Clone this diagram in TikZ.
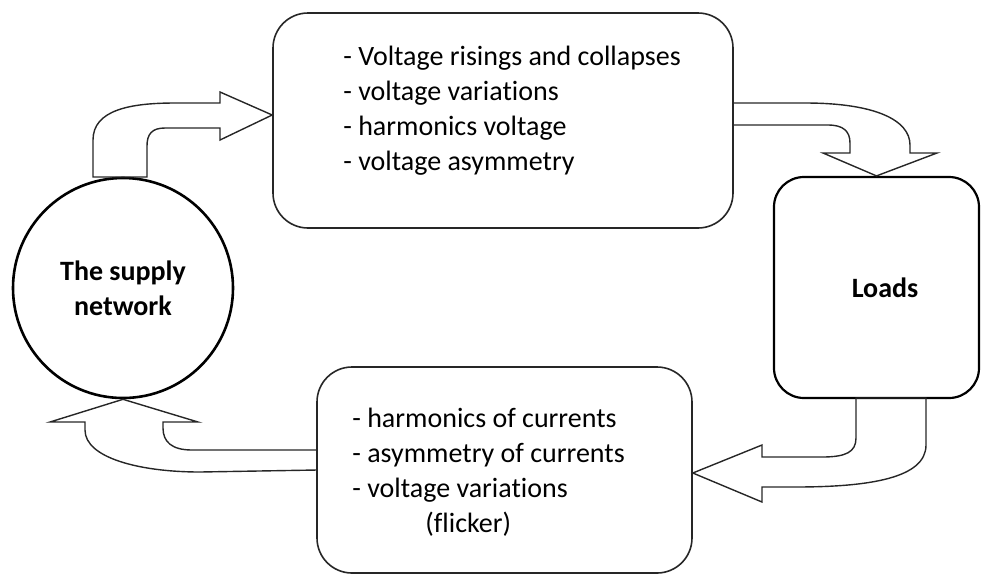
\documentclass[tikz,border=0pt]{standalone}
\usepackage{fontspec}
\setmainfont{Carlito}[Ligatures=NoCommon]
\usetikzlibrary{positioning}
\tikzset{
every node/.style={font=\fontsize{14}{17.5}\selectfont}, % one text size for the whole picture
network/.style={circle, draw, line width=1.3pt, minimum size=110pt, inner sep=0pt, align=center, font=\fontsize{14}{17.5}\selectfont\bfseries}, % the supply network
loadbox/.style={rectangle, draw, rounded corners=15pt, line width=1.1pt, minimum width=102.5pt, minimum height=110.5pt, font=\fontsize{14}{17.5}\selectfont\bfseries}, % the loads
listbox/.style={rectangle, draw=black!85, rounded corners=17.5pt, line width=0.8pt}, % boxes with the lists
listtext/.style={anchor=base west, align=left, inner sep=0pt}, % the lists themselves (base = last line)
fatarrow/.style={draw=black!85, line width=0.7pt, line join=miter}, % the wide hollow arrows
}
\begin{document}
\begin{tikzpicture}[x=0.5pt, y=-0.5pt]
    \useasboundingbox (0,0) rectangle (981,575);
    \node[network] (supply) at (123,288) {The supply\\network};
    \node[loadbox] (loads) at (876.5,287.5) {\hspace*{8.5pt}Loads};
    \node[listbox, minimum width=230pt, minimum height=107.5pt] (netdist) at (503,120.5) {};
    \node[listbox, minimum width=187.5pt, minimum height=103pt] (loaddist) at (504.5,470) {};
    \node[listtext] (netdisttext) at (343,170) {- Voltage risings and collapses\\- voltage variations\\- harmonics voltage\\- voltage asymmetry};
    \node[listtext] (loaddisttext) at (352,532) {- harmonics of currents\\- asymmetry of currents\\- voltage variations\\\hspace*{36.5pt}(flicker)};
    % network -> upper list
    \draw[fatarrow] (93,177) -- (93,140) .. controls (93,110) and (130,103) .. (175,103) -- (220,103) -- (220,92)
        -- ([shift={(0,-5.5)}]netdist.west) -- (220,140) -- (220,128) -- (165,128)
        .. controls (152,128) and (147,134) .. (147,146) -- (147,177) -- cycle;
    % upper list -> loads
    \draw[fatarrow] (733,103) -- (805,103) .. controls (875,103) and (910,120) .. (910,145) -- (910,153) -- (937,153)
        -- (loads.north) -- (823,153) -- (850,153) -- (850,143)
        .. controls (850,131) and (843,125) .. (828,125) -- (733,125) -- cycle;
    % loads -> lower list
    \draw[fatarrow] (926,398) -- (926,445) .. controls (926,478) and (870,487) .. (795,487) -- (762,487) -- (762,502)
        -- ([shift={(0,3)}]loaddist.east) -- (762,445) -- (762,457) -- (822,457)
        .. controls (846,457) and (856,452) .. (856,438) -- (856,398) -- cycle;
    % lower list -> network
    \draw[fatarrow] (317,450) -- (192,450) .. controls (172,450) and (163,442) .. (163,428) -- (163,422) -- (198,422)
        -- (supply.south) -- (50,422) -- (85,422) -- (85,430)
        .. controls (85,458) and (140,472) .. (200,472) -- (317,470) -- cycle;
\end{tikzpicture}
\end{document}
